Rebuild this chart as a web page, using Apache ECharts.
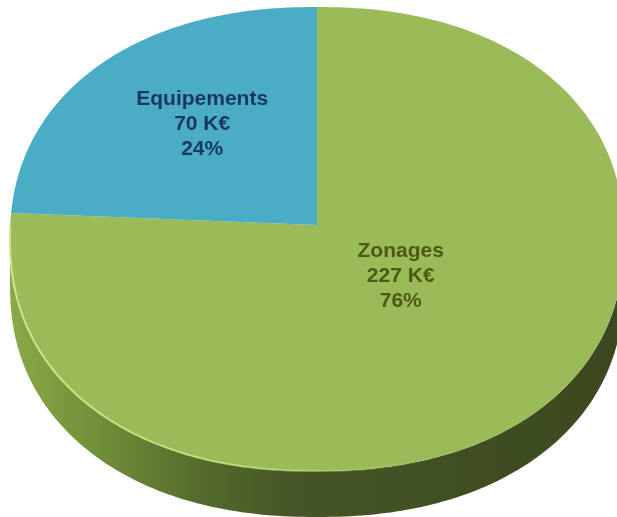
<!DOCTYPE html>
<html>
<head>
<meta charset="utf-8">
<script src="https://cdn.jsdelivr.net/npm/echarts@6/dist/echarts.min.js"></script>
<style>
  html, body { margin: 0; padding: 0; background: #fff; }
  #main { width: 617px; height: 517px; }
</style>
</head>
<body>
<div id="main"></div>
<script>
const categories = ['Zonages', 'Equipements']
const values = [227, 70]
const unit = ' K€'

const topColors = ['#9bbb59', '#4bacc6']
const labelColors = ['#4d5a12', '#17375e']
// label spot along the mid-angle ray (x / y fraction)
const labelSpots = [[0.39, 0.27], [0.535, 0.62]]

const total = values.reduce((a, b) => a + b, 0)
const starts = []
let acc = 0
values.forEach(v => { starts.push(acc / total * 360); acc += v })

// tilted pie, outline is a bit squarish like the office 3d pie
const geo = { cx: 317, cy: 239, ax: 307, by: 232, apexY: 225, n: 2.2, depth: 46 }

function outline(deg, dy) {
  const t = deg * Math.PI / 180
  const s = Math.sin(t), c = Math.cos(t)
  const p = 2 / geo.n
  return [
    geo.cx + geo.ax * Math.sign(s) * Math.pow(Math.abs(s), p),
    geo.cy - geo.by * Math.sign(c) * Math.pow(Math.abs(c), p) + (dy || 0)
  ]
}

function arc(a0, a1, dy) {
  const pts = []
  const steps = Math.max(2, Math.ceil(Math.abs(a1 - a0)))
  for (let i = 0; i <= steps; i++) pts.push(outline(a0 + (a1 - a0) * i / steps, dy))
  return pts
}

const chart = echarts.init(document.getElementById('main'))

chart.setOption({
  animation: false,
  series: [{
    type: 'custom',
    coordinateSystem: 'none',
    data: values.map((v, i) => ({ name: categories[i], value: [v] })),
    renderItem(params, api) {
      const i = params.dataIndex
      const v = api.value(0)
      const a0 = starts[i]
      const a1 = a0 + v / total * 360
      const apex = [geo.cx, geo.apexY]
      const children = []

      // visible front wall
      const s0 = Math.max(a0, 90), s1 = Math.min(a1, 270)
      if (s1 > s0) {
        children.push({
          type: 'polygon',
          z2: 1,
          shape: { points: arc(s0, s1, 0).concat(arc(s1, s0, geo.depth)) },
          style: {
            fill: new echarts.graphic.LinearGradient(0, 0, 1, 0, [
              { offset: 0, color: '#88aa47' },
              { offset: 0.15, color: '#708d38' },
              { offset: 0.3, color: '#566d2d' },
              { offset: 0.45, color: '#455626' },
              { offset: 1, color: '#3b481f' }
            ])
          }
        })
      }

      // top face
      children.push({
        type: 'polygon',
        z2: 2,
        shape: { points: [apex].concat(arc(a0, a1, 0)) },
        style: { fill: topColors[i] }
      })

      // light rim on the front-left edge
      const r0 = Math.max(a0, 160), r1 = Math.min(a1, 272)
      if (r1 > r0) {
        children.push({
          type: 'polyline',
          z2: 3,
          shape: { points: arc(r0, r1, 0) },
          style: {
            fill: null,
            lineWidth: 2,
            stroke: new echarts.graphic.LinearGradient(1, 0, 0, 0, [
              { offset: 0, color: 'rgba(190,220,120,0)' },
              { offset: 0.5, color: 'rgba(195,225,125,0.9)' },
              { offset: 1, color: 'rgba(205,230,140,1)' }
            ])
          }
        })
      }

      // label
      const mid = outline((a0 + a1) / 2, 0)
      const sp = labelSpots[i]
      const pct = Math.round(v / total * 100)
      children.push({
        type: 'text',
        z2: 4,
        style: {
          text: categories[i] + '\n' + v + unit + '\n' + pct + '%',
          x: apex[0] + (mid[0] - apex[0]) * sp[0],
          y: apex[1] + (mid[1] - apex[1]) * sp[1],
          fill: labelColors[i],
          fontSize: 21,
          fontWeight: 'bold',
          fontFamily: 'Arial, "Liberation Sans", sans-serif',
          align: 'center',
          verticalAlign: 'middle',
          lineHeight: 25
        }
      })

      return { type: 'group', children }
    }
  }]
})
</script>
</body>
</html>
